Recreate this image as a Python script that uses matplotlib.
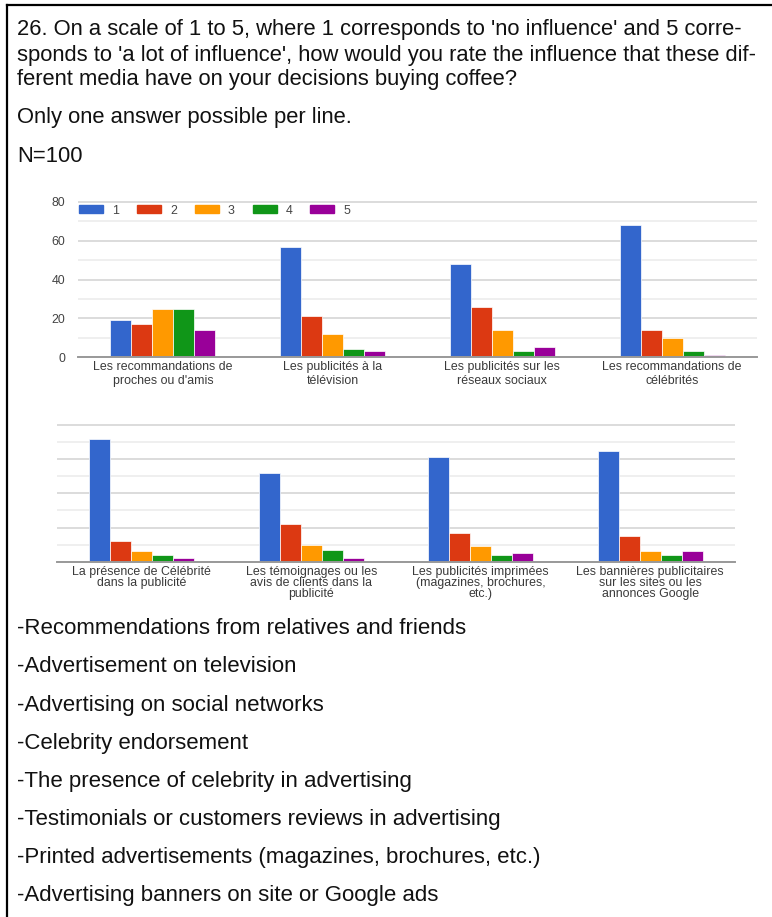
import matplotlib
matplotlib.use("Agg")
import matplotlib.pyplot as plt
from matplotlib.lines import Line2D
from matplotlib.patches import Patch
import numpy as np

plt.rcParams["font.family"] = ["Liberation Sans", "DejaVu Sans"]

W, H = 772, 917

# question header
question = [
    "26. On a scale of 1 to 5, where 1 corresponds to 'no influence' and 5 corre-",
    "sponds to 'a lot of influence', how would you rate the influence that these dif-",
    "ferent media have on your decisions buying coffee?",
]
note = "Only one answer possible per line."
sample = "N=100"

# rating scale and colours
ratings = ["1", "2", "3", "4", "5"]
colors = ["#3366cc", "#dc3912", "#ff9900", "#109618", "#990099"]

# first row of media (counts for ratings 1..5)
top_labels = [
    "Les recommandations de\nproches ou d'amis",
    "Les publicités à la\ntélévision",
    "Les publicités sur les\nréseaux sociaux",
    "Les recommandations de\ncélébrités",
]
top_counts = [
    [19, 17, 25, 25, 14],
    [57, 21, 12, 4, 3],
    [48, 26, 14, 3, 5],
    [68, 14, 10, 3, 1],
]

# second row of media
bottom_labels = [
    "La présence de Célébrité\ndans la publicité",
    "Les témoignages ou les\navis de clients dans la\npublicité",
    "Les publicités imprimées\n(magazines, brochures,\netc.)",
    "Les bannières publicitaires\nsur les sites ou les\nannonces Google",
]
bottom_counts = [
    [72, 12, 6, 4, 2],
    [52, 22, 10, 7, 2],
    [61, 17, 9, 4, 5],
    [65, 15, 6, 4, 6],
]

# english translations listed under the charts
translations = [
    "-Recommendations from relatives and friends",
    "-Advertisement on television",
    "-Advertising on social networks",
    "-Celebrity endorsement",
    "-The presence of celebrity in advertising",
    "-Testimonials or customers reviews in advertising",
    "-Printed advertisements (magazines, brochures, etc.)",
    "-Advertising banners on site or Google ads",
]

SMALL = 8.9


def fx(px):
    return px / W


def fy(py):
    return 1 - py / H


def draw_bars(ax, labels, counts, label_pad, spacing):
    counts = np.array(counts)
    x = np.arange(len(labels))
    pitch = 0.124
    for i, r in enumerate(ratings):
        ax.bar(x + (i - 2) * pitch, counts[:, i], width=pitch, color=colors[i],
               edgecolor="white", linewidth=0.5, label=r, zorder=3)
    ax.set_xlim(-0.5, len(labels) - 0.5)
    ax.set_ylim(0, 81)
    ax.set_yticks(np.arange(0, 81, 20))
    ax.set_yticks(np.arange(10, 80, 20), minor=True)
    ax.grid(axis="y", which="major", color="#d9d9d9", lw=1.3, zorder=0)
    ax.grid(axis="y", which="minor", color="#eeeeee", lw=1.3, zorder=0)
    ax.set_axisbelow(True)
    for s in ax.spines.values():
        s.set_visible(False)
    ax.axhline(0, color="#999999", lw=1.4, zorder=4, clip_on=False)
    ax.set_xticks(x)
    ax.set_xticklabels(labels, fontsize=SMALL, color="#3a3a3a", linespacing=spacing)
    ax.tick_params(axis="both", which="both", length=0)
    ax.tick_params(axis="x", pad=label_pad)


fig = plt.figure(figsize=(W / 100, H / 100), dpi=100)

# header text
for i, line in enumerate(question):
    fig.text(fx(17), fy(30 + 25 * i), line, fontsize=15.8, va="center", color="#111111")
fig.text(fx(17), fy(118), note, fontsize=15.8, va="center", color="#111111")
fig.text(fx(17), fy(157), sample, fontsize=15.8, va="center", color="#111111")

# top chart
ax1 = fig.add_axes([fx(78), fy(357), fx(757 - 78), 155 * 81 / 80 / H])
draw_bars(ax1, top_labels, top_counts, 3, 1.15)
ax1.set_yticklabels([str(v) for v in range(0, 81, 20)], fontsize=SMALL, color="#444444")
ax1.tick_params(axis="y", pad=9)
handles = [Patch(color=c) for c in colors]
fig.legend(handles, ratings, loc="center left", bbox_to_anchor=(fx(79), fy(210.5)),
           ncol=5, frameon=False, fontsize=SMALL, handlelength=1.95, handleheight=0.65,
           handletextpad=0.72, columnspacing=1.45, borderpad=0, borderaxespad=0,
           labelcolor="#444444")

# bottom chart
ax2 = fig.add_axes([fx(57), fy(561.7), fx(735 - 57), 136.7 * 81 / 80 / H])
draw_bars(ax2, bottom_labels, bottom_counts, 3, 0.88)
ax2.set_yticklabels([])

# translations
for i, line in enumerate(translations):
    fig.text(fx(17), fy(629 + 38 * i), line, fontsize=16, va="center", color="#111111")

# frame on top and left
fig.add_artist(Line2D([fx(6.5), 1], [fy(5), fy(5)], color="black", lw=1.6))
fig.add_artist(Line2D([fx(6.5), fx(6.5)], [fy(5), 0], color="black", lw=1.6))

fig.savefig("out.png", dpi=100)
